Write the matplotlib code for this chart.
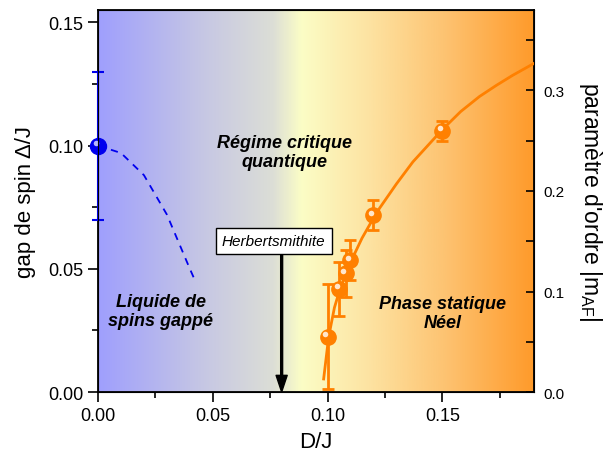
import numpy as np
import matplotlib

matplotlib.use("Agg")
import matplotlib.pyplot as plt
from matplotlib.colors import LinearSegmentedColormap
from matplotlib.transforms import ScaledTranslation

plt.rcParams["font.family"] = ["Liberation Sans", "DejaVu Sans"]
plt.rcParams["mathtext.fontset"] = "custom"
plt.rcParams["mathtext.rm"] = "Liberation Sans"

# gap de spin (left axis)
gap_d = [0.0]
gap_val = [0.100]
gap_err = [0.030]
gap_curve_d = [0.0, 0.010, 0.020, 0.030, 0.040, 0.0426]
gap_curve_val = [0.100, 0.097, 0.088, 0.072, 0.050, 0.0445]

# order parameter (right axis)
order_d = [0.100, 0.105, 0.108, 0.110, 0.120, 0.150]
order_val = [0.055, 0.1025, 0.118, 0.131, 0.176, 0.260]
order_err = [0.052, 0.027, 0.023, 0.020, 0.015, 0.010]
fit_d = [0.0983, 0.1005, 0.1030, 0.1053, 0.108, 0.110, 0.115, 0.120, 0.1227,
         0.130, 0.1372, 0.150, 0.158, 0.1662, 0.1735, 0.1806, 0.190]
fit_val = [0.013, 0.055, 0.084, 0.1015, 0.118, 0.129, 0.153, 0.173, 0.183,
           0.207, 0.229, 0.261, 0.279, 0.294, 0.305, 0.315, 0.327]

herbert_d = 0.08

xmax, ymax, y2max = 0.19, 0.155, 0.38

fig = plt.figure(figsize=(6.09, 4.52), dpi=100)
ax = fig.add_axes([0.161, 0.1305, 0.716, 0.845])

# background gradient
cmap = LinearSegmentedColormap.from_list("phase", [
    (0.0, "#9f9ffd"), (0.24, "#c6c7e4"), (0.40, "#dcded6"), (0.465, "#fbfdc6"),
    (0.62, "#fde3a2"), (0.80, "#fdc270"), (1.0, "#ff9a2a")])
grad = np.linspace(0, 1, 512)[None, :]
ax.imshow(grad, cmap=cmap, extent=[0, xmax, 0, ymax], aspect="auto", zorder=0)

ax.plot(gap_curve_d, gap_curve_val, color="#0000ee", lw=1.3, ls=(0, (4, 3.5)), zorder=3)
ax.errorbar(gap_d, gap_val, yerr=gap_err, fmt="o", color="#0000ee", ms=11.5,
            elinewidth=1.5, capsize=4, capthick=1.5, clip_on=False, zorder=5)
hl = ax.transData + ScaledTranslation(-2.5 / 100, 2.5 / 100, fig.dpi_scale_trans)
ax.plot(gap_d, gap_val, "o", color="#b8b8ff", ms=4, mec="none", transform=hl,
        clip_on=False, zorder=6)

ax.set_xlim(0, xmax)
ax.set_ylim(0, ymax)
ax.set_xticks([0, 0.05, 0.10, 0.15])
ax.set_xticks([0.025, 0.075, 0.125, 0.175], minor=True)
ax.set_yticks([0, 0.05, 0.10, 0.15])
ax.set_yticks([0.025, 0.075, 0.125], minor=True)
ax.xaxis.set_major_formatter(matplotlib.ticker.FormatStrFormatter("%.2f"))
ax.yaxis.set_major_formatter(matplotlib.ticker.FormatStrFormatter("%.2f"))
ax.tick_params(which="major", direction="out", length=7.5, width=1.2, labelsize=13, pad=3)
ax.tick_params(which="minor", direction="out", length=4, width=1.2)
ax.tick_params(top=False, right=False, which="both")
for sp in ax.spines.values():
    sp.set_linewidth(1.3)
ax.set_xlabel("D/J", fontsize=16, labelpad=5)
ax.set_ylabel("gap de spin \u0394/J", fontsize=16, labelpad=9)

# region labels
lab = dict(fontsize=13, fontweight="bold", fontstyle="italic", ha="center",
           va="center", linespacing=1.15, zorder=4)
ax.text(0.0814, 0.0975, "Régime critique\nquantique", **lab)
ax.text(0.0274, 0.0330, "Liquide de\nspins gappé", **lab)
ax.text(0.1503, 0.0320, "Phase statique\nNéel", **lab)

# Herbertsmithite marker
ax.annotate("", xy=(herbert_d, 0), xytext=(herbert_d, 0.0563),
            arrowprops=dict(facecolor="black", edgecolor="black", width=1.4,
                            headwidth=8, headlength=12, shrink=0), zorder=4)
ax.text(0.0766, 0.0613, "Herbertsmithite", fontsize=11, fontstyle="italic",
        ha="center", va="center", zorder=5,
        bbox=dict(boxstyle="square,pad=0.42", fc="white", ec="black", lw=1))

# order parameter on the twin axis
ax2 = ax.twinx()
ax2.plot(fit_d, fit_val, color="#ff8000", lw=2, zorder=3)
ax2.errorbar(order_d, order_val, yerr=order_err, fmt="o", color="#ff8000", ms=11,
             elinewidth=2, capsize=4, capthick=2, zorder=5)
hl2 = ax2.transData + ScaledTranslation(-2.5 / 100, 2.5 / 100, fig.dpi_scale_trans)
ax2.plot(order_d, order_val, "o", color="#ffe6cc", ms=4, mec="none",
         transform=hl2, zorder=6)
ax2.set_ylim(0, y2max)
ax2.set_yticks([0, 0.1, 0.2, 0.3])
ax2.set_yticks([0.05, 0.15, 0.25, 0.35], minor=True)
ax2.yaxis.set_major_formatter(matplotlib.ticker.FormatStrFormatter("%.1f"))
ax2.tick_params(which="both", direction="in", length=6, width=1.2, labelsize=11, pad=7)
ax2.set_ylabel("paramètre d'ordre |m$_\\mathregular{AF}$|", fontsize=16.5,
               rotation=-90, labelpad=28)

fig.savefig("out.png", dpi=100)
